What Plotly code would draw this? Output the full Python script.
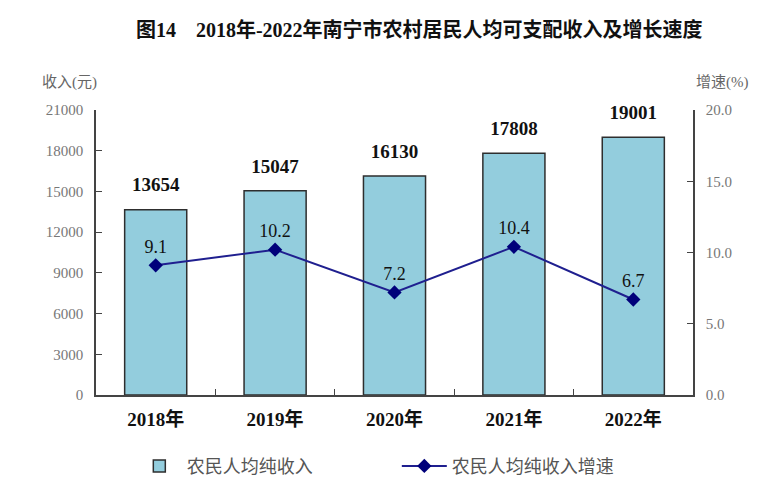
import plotly.graph_objects as go

years = ['2018年', '2019年', '2020年', '2021年', '2022年']
income = [13654, 15047, 16130, 17808, 19001]
growth = [9.1, 10.2, 7.2, 10.4, 6.7]

left_ticks = [0, 3000, 6000, 9000, 12000, 15000, 18000, 21000]
right_ticks = [0, 5, 10, 15, 20]

serif = 'Liberation Serif, DejaVu Serif, Noto Sans CJK SC'

fig = go.Figure()

# income bars
fig.add_trace(go.Bar(
    x=years, y=income, name='农民人均纯收入',
    marker=dict(color='#93CDDD', line=dict(color='#2E2E2E', width=1.5)),
    width=0.52,
))

# bar value labels, an invisible marker keeps them a little above the bar top
fig.add_trace(go.Scatter(
    x=years, y=income, mode='markers+text', showlegend=False, hoverinfo='skip',
    marker=dict(size=20, color='rgba(0,0,0,0)'),
    text=[f'<b>{v}</b>' for v in income], textposition='top center',
    textfont=dict(family=serif, size=19, color='#111111'),
    cliponaxis=False,
))

# growth line
fig.add_trace(go.Scatter(
    x=years, y=growth, name='农民人均纯收入增速', yaxis='y2',
    mode='lines+markers+text',
    line=dict(color='#1F1F8F', width=2),
    marker=dict(symbol='diamond', size=11, color='#00007A'),
    text=[f'{v:.1f}' for v in growth], textposition='top center',
    textfont=dict(family=serif, size=18, color='#111111'),
    cliponaxis=False,
))

# page body has 8px margin, so margins are shifted by that
fig.update_layout(
    width=776, height=495,
    margin=dict(l=88, r=91, t=102, b=108, autoexpand=False),
    paper_bgcolor='white', plot_bgcolor='white',
    title=dict(text='<b>图14　2018年-2022年南宁市农村居民人均可支配收入及增长速度</b>',
               x=0.53, xanchor='center', y=0.955, yanchor='middle',
               font=dict(family=serif, size=20, color='#111111')),
    showlegend=True,
    legend=dict(orientation='h', x=0.06, xanchor='left', y=-0.25, yanchor='middle',
                font=dict(family=serif, size=18, color='#555555'),
                itemwidth=45, entrywidth=205, entrywidthmode='pixels'),
    xaxis=dict(showline=True, linecolor='#444444', linewidth=1.5,
               tickvals=years, ticktext=[f'<b>{y}</b>' for y in years],
               ticks='inside', tickson='boundaries', ticklen=6, tickcolor='#444444',
               tickfont=dict(family=serif, size=19, color='#111111'),
               ticklabelstandoff=6, showgrid=False),
    yaxis=dict(range=[0, 21000], tickvals=left_ticks, ticktext=[str(t) for t in left_ticks],
               showline=True, linecolor='#444444', linewidth=1.5,
               ticks='inside', ticklen=6, tickcolor='#444444',
               tickfont=dict(family=serif, size=15, color='#777777'),
               ticklabelstandoff=8, showgrid=False, zeroline=False),
    yaxis2=dict(range=[0, 20], tickvals=right_ticks, tickformat='.1f', overlaying='y',
                side='right', showline=True, linecolor='#444444', linewidth=1.5,
                ticks='inside', ticklen=6, tickcolor='#444444',
                tickfont=dict(family=serif, size=15, color='#777777'),
                ticklabelstandoff=8, showgrid=False, zeroline=False),
    annotations=[
        dict(text='收入(元)', xref='paper', yref='paper', x=-0.045, y=1.095,
             xanchor='center', yanchor='middle', showarrow=False,
             font=dict(family=serif, size=15, color='#666666')),
        dict(text='增速(%)', xref='paper', yref='paper', x=1.05, y=1.095,
             xanchor='center', yanchor='middle', showarrow=False,
             font=dict(family=serif, size=15, color='#666666')),
    ],
)

fig.write_html('out.html')
